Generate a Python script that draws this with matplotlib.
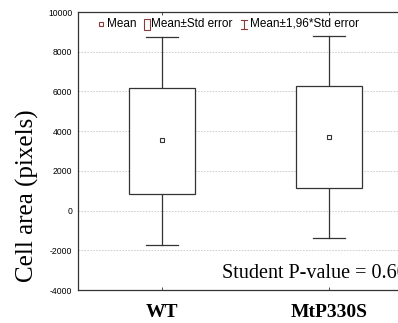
import matplotlib
matplotlib.use("Agg")
import matplotlib.pyplot as plt
from matplotlib.patches import Rectangle

categories = ["WT", "MtP330S"]
means = [3530, 3680]
se_low = [810, 1130]
se_high = [6180, 6290]
ci_low = [-1740, -1380]
ci_high = [8760, 8800]
yticks = [-4000, -2000, 0, 2000, 4000, 6000, 8000, 10000]
pvalue_text = "Student P-value = 0.60"

W, H = 398, 323
fig = plt.figure(figsize=(W / 100, H / 100), dpi=100)
ax = fig.add_axes([78 / W, (H - 290) / H, 335 / W, 278 / H])

col_edge = "#333333"
legend_col = "#8b3a3a"
box_w = 0.40
cap_w = 0.195
for i, c in enumerate(categories):
    ax.plot([i, i], [se_high[i], ci_high[i]], color=col_edge, lw=0.9, zorder=2)
    ax.plot([i, i], [ci_low[i], se_low[i]], color=col_edge, lw=0.9, zorder=2)
    ax.plot([i - cap_w / 2, i + cap_w / 2], [ci_high[i]] * 2, color=col_edge, lw=0.9, zorder=2)
    ax.plot([i - cap_w / 2, i + cap_w / 2], [ci_low[i]] * 2, color=col_edge, lw=0.9, zorder=2)
    ax.add_patch(Rectangle((i - box_w / 2, se_low[i]), box_w, se_high[i] - se_low[i],
                           facecolor="white", edgecolor=col_edge, lw=0.9, zorder=3))
    ax.plot([i], [means[i]], marker="s", ms=3.2, mfc="white", mec=col_edge, mew=0.8, zorder=4)

ax.set_xlim(-0.503, 1.503)
ax.set_ylim(-4000, 10000)
ax.set_yticks(yticks)
ax.set_yticklabels([str(v) for v in yticks], fontsize=6.2, family="Liberation Sans")
ax.tick_params(axis="y", length=0, pad=4)
ax.set_xticks(range(len(categories)))
ax.set_xticklabels(categories, fontsize=14, family="Liberation Serif", fontweight="bold")
ax.tick_params(axis="x", length=2, width=0.6, pad=10, top=True, direction="in", colors=col_edge)
for lab in ax.get_xticklabels():
    lab.set_color("black")
ax.grid(axis="y", linestyle=(0, (2, 1.5)), color="#c8c8c8", lw=0.6)
ax.set_axisbelow(True)
for s in ax.spines.values():
    s.set_color(col_edge)
    s.set_linewidth(0.9)
ax.spines["right"].set_visible(False)

fig.text(27 / W, (H - 196) / H, "Cell area (pixels)", fontsize=18, family="Liberation Serif",
         rotation=90, va="center", ha="center")

fig.text(222 / W, (H - 274) / H, pvalue_text, fontsize=14.5, family="Liberation Serif",
         va="center", ha="left")

# legend
ly = (H - 24) / H
fs = 8.5
fig.lines.append(plt.Line2D([101 / W], [ly], marker="s", ms=3, mfc="white", mec=legend_col,
                            mew=0.8, transform=fig.transFigure))
fig.text(107 / W, ly, "Mean", fontsize=fs, family="Liberation Sans", va="center")
fig.patches.append(Rectangle((143.5 / W, (H - 29.5) / H), 6.5 / W, 10 / H, facecolor="white",
                             edgecolor=legend_col, lw=0.8, transform=fig.transFigure))
fig.text(151 / W, ly, "Mean±Std error", fontsize=fs, family="Liberation Sans", va="center")
ex = 244 / W
fig.lines.append(plt.Line2D([ex, ex], [(H - 29) / H, (H - 20) / H], color=legend_col, lw=0.8,
                            transform=fig.transFigure))
for yy in (20, 29):
    fig.lines.append(plt.Line2D([241 / W, 247 / W], [(H - yy) / H] * 2, color=legend_col, lw=0.8,
                                transform=fig.transFigure))
fig.text(250 / W, ly, "Mean±1,96*Std error", fontsize=fs, family="Liberation Sans", va="center")

fig.savefig("out.png", dpi=100)
